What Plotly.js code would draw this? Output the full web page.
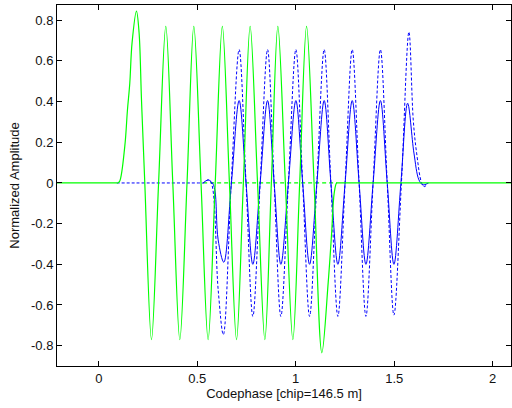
<!DOCTYPE html>
<html><head><meta charset="utf-8">
<script src="https://cdn.plot.ly/plotly-3.0.1.min.js"></script>
<style>body{margin:0;background:#fff}#plot{width:512px;height:408px}</style>
</head><body><div id="plot"></div>
<script>
// Green solid signal
const greenX = [-0.212, -0.205, 0.09, 0.0965, 0.1067, 0.1321, 0.1458, 0.1575, 0.1692, 0.1915, 0.2047, 0.2169, 0.2337, 0.2677, 0.3038, 0.3404, 0.3759, 0.4115, 0.4481, 0.4826, 0.5192, 0.5552, 0.5913, 0.6274, 0.6635, 0.6995, 0.7341, 0.7686, 0.8062, 0.8433, 0.8763, 0.9093, 0.9474, 0.9855, 1.0201, 1.0551, 1.0932, 1.1328, 1.1648, 1.1821, 1.1953, 1.2075, 1.215, 2.085, 2.093];
const greenY = [0, 0, 0, 0, 0.01, 0.18, 0.36, 0.49, 0.69, 0.845, 0.74, 0.41, 0, -0.77, 0, 0.77, 0, -0.77, 0, 0.77, 0, -0.77, 0, 0.77, 0, -0.77, 0, 0.77, 0, -0.77, 0, 0.77, 0, -0.77, 0, 0.77, 0, -0.835, -0.49, -0.25, -0.05, 0, 0, 0, 0];

// Blue dotted signal
const blueDotX = [0.0914, 0.1, 0.52, 0.5298, 0.5553, 0.5715, 0.6062, 0.6325, 0.6726, 0.7127, 0.7478, 0.7823, 0.8194, 0.857, 0.8905, 0.9246, 0.9627, 1.0008, 1.0353, 1.0704, 1.1074, 1.1445, 1.1786, 1.2141, 1.2507, 1.2868, 1.3218, 1.3564, 1.3929, 1.43, 1.4646, 1.4986, 1.5367, 1.5748, 1.5967, 1.6139, 1.6393, 1.6525, 1.6728];
const blueDotY = [0, 0, 0, 0, 0.015, 0, -0.525, -0.746, 0, 0.656, 0, -0.656, 0, 0.656, 0, -0.656, 0, 0.656, 0, -0.656, 0, 0.656, 0, -0.656, 0, 0.656, 0, -0.656, 0, 0.656, 0, -0.65, 0, 0.743, 0.31, 0.147, 0, -0.018, 0];

// Blue solid signal
const blueSolX = [0.5298, 0.5553, 0.5766, 0.5893, 0.6062, 0.635, 0.6736, 0.7127, 0.7478, 0.7823, 0.8194, 0.857, 0.8905, 0.9246, 0.9627, 1.0008, 1.0353, 1.0704, 1.1074, 1.1445, 1.1786, 1.2141, 1.2507, 1.2868, 1.3218, 1.3564, 1.3929, 1.43, 1.4646, 1.4986, 1.534, 1.5681, 1.6002, 1.6256, 1.6459, 1.6728];
const blueSolY = [0, 0.015, 0, -0.034, -0.28, -0.39, 0, 0.405, 0, -0.4, 0, 0.405, 0, -0.4, 0, 0.405, 0, -0.4, 0, 0.405, 0, -0.4, 0, 0.405, 0, -0.4, 0, 0.405, 0, -0.4, 0, 0.392, 0.147, 0.015, -0.01, 0];

// Green dashed zero segment
const greenDashX = [0.53, 1.21];
const greenDashY = [0, 0];

const xTickVals = [0, 0.5, 1, 1.5, 2];
const xTickText = ['0', '0.5', '1', '1.5', '2'];
const yTickVals = [-0.8, -0.6, -0.4, -0.2, 0, 0.2, 0.4, 0.6, 0.8];
const yTickText = ['-0.8', '-0.6', '-0.4', '-0.2', '0', '0.2', '0.4', '0.6', '0.8'];

const traces = [
  {x: greenDashX, y: greenDashY, mode: 'lines', line: {color: '#00ff00', width: 1.2, dash: '4px,3px'}},
  {x: blueDotX, y: blueDotY, mode: 'lines', line: {color: '#0000ff', width: 1, dash: '3px,2px', shape: 'spline', smoothing: 1}},
  {x: blueSolX, y: blueSolY, mode: 'lines', line: {color: '#0000ff', width: 1, shape: 'spline', smoothing: 1}},
  {x: greenX, y: greenY, mode: 'lines', line: {color: '#00ff00', width: 1.2, shape: 'spline', smoothing: 1}}
];

const axisCommon = {
  showline: true, linecolor: '#000', linewidth: 1, mirror: 'allticks',
  ticks: 'inside', ticklen: 5, tickcolor: '#000', showgrid: false, zeroline: false,
  tickfont: {size: 13, color: '#111'}
};

const layout = {
  width: 512, height: 408,
  margin: {l: 57, r: 1, t: 5, b: 42},
  paper_bgcolor: '#fff', plot_bgcolor: '#fff',
  showlegend: false,
  font: {family: 'Liberation Sans, Arial, sans-serif', size: 13, color: '#111'},
  xaxis: Object.assign({}, axisCommon, {
    range: [-0.212, 2.093], tickmode: 'array', tickvals: xTickVals, ticktext: xTickText,
    title: {text: 'Codephase [chip=146.5 m]', font: {size: 13}, standoff: 4}
  }),
  yaxis: Object.assign({}, axisCommon, {
    range: [-0.9, 0.875], tickmode: 'array', tickvals: yTickVals, ticktext: yTickText,
    title: {text: 'Normalized Amplitude', font: {size: 13}, standoff: 8}
  })
};

Plotly.newPlot('plot', traces, layout, {staticPlot: true, displayModeBar: false});
</script>
</body></html>
